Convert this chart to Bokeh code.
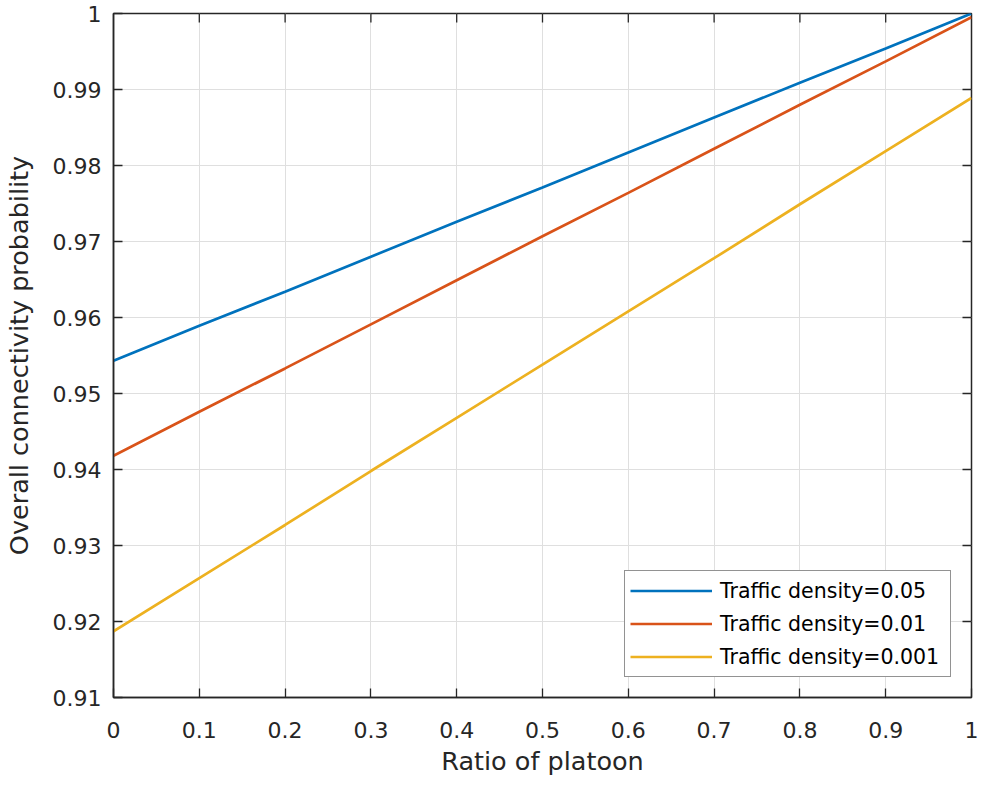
import math
from bokeh.plotting import figure
from bokeh.models import FixedTicker, Legend, LegendItem, Range1d
from bokeh.embed import file_html
from bokeh.resources import INLINE

ratio = [0.0, 0.1, 0.2, 0.3, 0.4, 0.5, 0.6, 0.7, 0.8, 0.9, 1.0]
dens_005 = [0.9543, 0.9589, 0.9634, 0.9680, 0.9726, 0.9771, 0.9817, 0.9863, 0.9909, 0.9954, 1.0000]
dens_001 = [0.9418, 0.9476, 0.9533, 0.9591, 0.9649, 0.9707, 0.9764, 0.9822, 0.9880, 0.9937, 0.9995]
dens_0001 = [0.9187, 0.9257, 0.9327, 0.9398, 0.9468, 0.9538, 0.9608, 0.9678, 0.9749, 0.9819, 0.9889]
labels = ["Traffic density=0.05", "Traffic density=0.01", "Traffic density=0.001"]
colors = ["#0072BD", "#D95319", "#EDB120"]
xticks = [0.0, 0.1, 0.2, 0.3, 0.4, 0.5, 0.6, 0.7, 0.8, 0.9, 1.0]
yticks = [0.91, 0.92, 0.93, 0.94, 0.95, 0.96, 0.97, 0.98, 0.99, 1.0]

FONT = "DejaVu Sans"
AX = "#262626"

p = figure(width=978, height=778, output_backend="svg", toolbar_location=None,
           x_range=Range1d(0, 1), y_range=Range1d(0.91, 1.0),
           min_border_left=112, min_border_right=7, min_border_top=13, min_border_bottom=79)
p.outline_line_color = AX
p.outline_line_width = 1.5
p.background_fill_color = "white"

renderers = []
for ys, c in zip([dens_005, dens_001, dens_0001], colors):
    r = p.line(ratio, ys, line_color=c, line_width=2.7)
    renderers.append(r)

# inner ticks on the top and right edges of the box
p.scatter(x=xticks[1:-1], y=[yticks[-1]] * (len(xticks) - 2), marker="dash", size=18,
          angle=math.pi / 2, line_color=AX, line_width=1.3)
p.scatter(x=[xticks[-1]] * (len(yticks) - 2), y=yticks[1:-1], marker="dash", size=18,
          line_color=AX, line_width=1.3)

def style(ax):
    ax.axis_line_color = AX
    ax.axis_line_width = 1.5
    ax.major_tick_line_color = AX
    ax.major_tick_line_width = 1.3
    ax.major_tick_in = 9
    ax.major_tick_out = 0
    ax.minor_tick_in = 0
    ax.minor_tick_out = 0
    ax.major_label_text_font = FONT
    ax.major_label_text_color = AX
    ax.major_label_text_font_size = "22px"
    ax.axis_label_text_font = FONT
    ax.axis_label_text_font_style = "normal"
    ax.axis_label_text_color = AX
    ax.axis_label_text_font_size = "25.5px"

xa = p.xaxis[0]
xa.ticker = FixedTicker(ticks=xticks)
style(xa)
xa.axis_label = "Ratio of platoon"
xa.major_label_standoff = 24
xa.axis_label_standoff = 5
xa.major_label_overrides = {0.0: "0", 1.0: "1"}

ya = p.yaxis[0]
ya.ticker = FixedTicker(ticks=yticks)
style(ya)
ya.axis_label = "Overall connectivity probability"
ya.major_label_standoff = 12
ya.axis_label_standoff = 16
ya.major_label_overrides = {1.0: "1"}

p.xgrid.ticker = FixedTicker(ticks=xticks)
p.ygrid.ticker = FixedTicker(ticks=yticks)
for g in (p.xgrid[0], p.ygrid[0]):
    g.grid_line_color = "#dfdfdf"
    g.grid_line_width = 1

legend = Legend(items=[LegendItem(label=l, renderers=[r]) for l, r in zip(labels, renderers)],
                location="bottom_right")
legend.margin = 20
legend.padding = 5
legend.spacing = 4
legend.label_height = 29
legend.glyph_height = 29
legend.glyph_width = 82
legend.label_width = 225
legend.label_standoff = 8
legend.label_text_font = FONT
legend.label_text_font_size = "20.5px"
legend.label_text_color = "#000000"
legend.border_line_color = AX
legend.border_line_width = 1.3
legend.background_fill_alpha = 1.0
p.add_layout(legend, "center")

open("out.html", "w").write(file_html(p, INLINE))
